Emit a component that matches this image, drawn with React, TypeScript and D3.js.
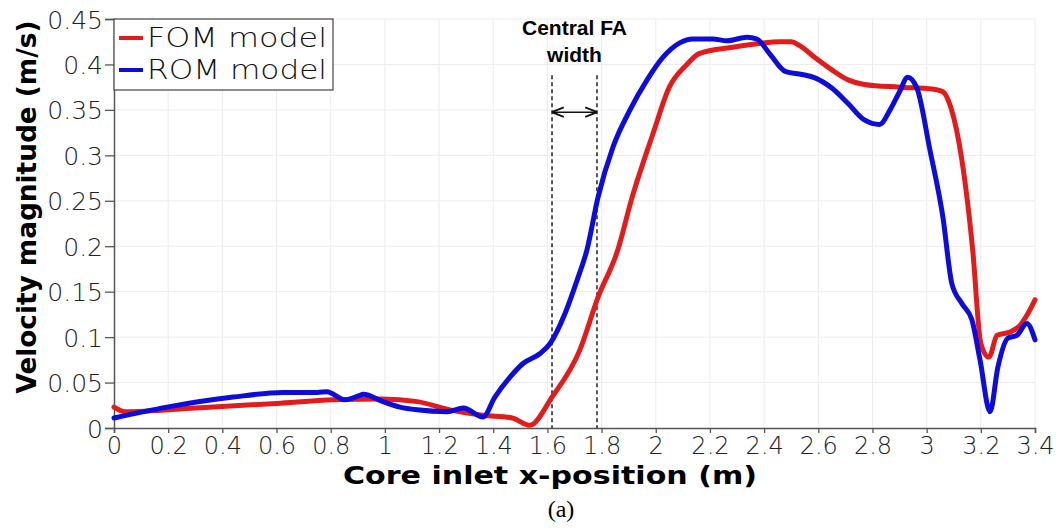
import React, { useEffect, useRef } from 'react';
import * as d3 from 'd3';

// FOM model (red) - core inlet x-position (m) vs velocity magnitude (m/s)
const fomX = [0, 0.04, 0.3, 0.6, 0.81, 0.99, 1.12, 1.24, 1.36, 1.47, 1.535, 1.617, 1.72, 1.787, 1.86, 1.91, 1.99, 2.05, 2.115, 2.16, 2.285, 2.38, 2.46, 2.5, 2.53, 2.59, 2.65, 2.71, 2.77, 2.9, 3.02, 3.06, 3.09, 3.13, 3.17, 3.2, 3.23, 3.26, 3.31, 3.345, 3.37, 3.4];
const fomY = [0.023, 0.018, 0.022, 0.027, 0.031, 0.032, 0.029, 0.02, 0.014, 0.011, 0.003, 0.034, 0.086, 0.144, 0.196, 0.251, 0.324, 0.375, 0.4, 0.412, 0.419, 0.423, 0.425, 0.425, 0.421, 0.407, 0.394, 0.383, 0.378, 0.375, 0.373, 0.37, 0.352, 0.295, 0.196, 0.093, 0.078, 0.102, 0.106, 0.113, 0.124, 0.141];

// ROM model (blue)
const romX = [0, 0.196, 0.44, 0.624, 0.75, 0.786, 0.853, 0.908, 0.92, 0.993, 1.056, 1.118, 1.23, 1.29, 1.362, 1.406, 1.462, 1.51, 1.573, 1.61, 1.665, 1.71, 1.746, 1.787, 1.842, 1.905, 1.968, 2.027, 2.09, 2.137, 2.21, 2.263, 2.337, 2.373, 2.42, 2.48, 2.54, 2.59, 2.65, 2.71, 2.77, 2.826, 2.865, 2.9, 2.93, 2.964, 3.012, 3.06, 3.093, 3.13, 3.167, 3.197, 3.234, 3.263, 3.3, 3.333, 3.37, 3.4];
const romY = [0.011, 0.023, 0.034, 0.039, 0.039, 0.04, 0.031, 0.036, 0.037, 0.029, 0.023, 0.02, 0.018, 0.022, 0.012, 0.034, 0.056, 0.071, 0.082, 0.093, 0.126, 0.163, 0.196, 0.254, 0.309, 0.35, 0.383, 0.408, 0.424, 0.428, 0.428, 0.426, 0.43, 0.428, 0.412, 0.392, 0.389, 0.385, 0.374, 0.357, 0.339, 0.334, 0.35, 0.37, 0.386, 0.374, 0.306, 0.232, 0.159, 0.137, 0.119, 0.075, 0.018, 0.067, 0.099, 0.102, 0.115, 0.097];

const xTicks = [0, 0.2, 0.4, 0.6, 0.8, 1, 1.2, 1.4, 1.6, 1.8, 2, 2.2, 2.4, 2.6, 2.8, 3, 3.2, 3.4];
const yTicks = [0, 0.05, 0.1, 0.15, 0.2, 0.25, 0.3, 0.35, 0.4, 0.45];

const seriesNames = ['FOM model', 'ROM model'];
const seriesColors = ['#e31b1b', '#0c0cdc'];

// central fuel assembly width markers
const faBounds = [1.617, 1.783];
const faTop = 0.388;
const faArrowY = 0.3475;

const W = 1061;
const H = 528;

export default function App() {
  const ref = useRef<SVGSVGElement>(null);

  useEffect(() => {
    const svg = d3.select(ref.current);
    svg.selectAll('*').remove();

    const margin = { top: 19, right: 26, bottom: 100, left: 114 };
    const x = d3.scaleLinear().domain([0, 3.4]).range([margin.left, W - margin.right]);
    const y = d3.scaleLinear().domain([0, 0.45]).range([H - margin.bottom, margin.top]);

    const tickFont = '"DejaVu Sans", sans-serif';

    svg.append('rect').attr('width', W).attr('height', H).attr('fill', 'white');

    // grid
    const grid = svg.append('g').attr('stroke', '#ececec').attr('stroke-width', 1);
    grid.selectAll('.gx')
      .data(xTicks.slice(1))
      .enter()
      .append('line')
      .attr('x1', (d) => x(d)).attr('x2', (d) => x(d))
      .attr('y1', y(0)).attr('y2', y(0.45));
    grid.selectAll('.gy')
      .data(yTicks.slice(1))
      .enter()
      .append('line')
      .attr('x1', x(0)).attr('x2', x(3.4))
      .attr('y1', (d) => y(d)).attr('y2', (d) => y(d));

    // axes
    const xAxis = svg.append('g')
      .attr('transform', `translate(0,${y(0)})`)
      .call(d3.axisBottom(x).tickValues(xTicks).tickFormat((d) => String(d)).tickSize(5).tickPadding(4));
    const yAxis = svg.append('g')
      .attr('transform', `translate(${x(0)},0)`)
      .call(d3.axisLeft(y).tickValues(yTicks).tickFormat((d) => String(d)).tickSize(9).tickPadding(2));

    [xAxis, yAxis].forEach((a) => {
      a.select('.domain').attr('stroke', '#555').attr('stroke-width', 1.5);
      a.selectAll('.tick line').attr('stroke', '#555').attr('stroke-width', 1.3);
      a.selectAll('.tick text')
        .attr('fill', '#222')
        .style('font-family', tickFont)
        .style('font-weight', '200')
        .style('font-size', '25px');
    });
    xAxis.selectAll('.tick text').attr('dy', '0.71em').style('font-size', '24px');
    yAxis.selectAll('.tick text').attr('dy', '0.36em');

    // central FA annotation
    const ann = svg.append('g');
    ann.selectAll('line.fa')
      .data(faBounds)
      .enter()
      .append('line')
      .attr('x1', (d) => x(d)).attr('x2', (d) => x(d))
      .attr('y1', y(faTop)).attr('y2', y(0))
      .attr('stroke', '#111')
      .attr('stroke-width', 1.4)
      .attr('stroke-dasharray', '4,3');

    svg.append('defs').html(
      '<marker id="ah" viewBox="0 0 10 10" refX="9" refY="5" markerWidth="8" markerHeight="8" orient="auto-start-reverse">' +
      '<path d="M0,1 L10,5 L0,9" fill="none" stroke="#111" stroke-width="1.6"/></marker>'
    );
    ann.append('line')
      .attr('x1', x(faBounds[0]) + 1).attr('x2', x(faBounds[1]) - 1)
      .attr('y1', y(faArrowY)).attr('y2', y(faArrowY))
      .attr('stroke', '#111')
      .attr('stroke-width', 1.5)
      .attr('marker-start', 'url(#ah)')
      .attr('marker-end', 'url(#ah)');

    const annX = (x(faBounds[0]) + x(faBounds[1])) / 2;
    ann.append('text')
      .attr('x', annX).attr('y', 35)
      .attr('text-anchor', 'middle')
      .style('font-family', '"Liberation Sans", Arial, sans-serif')
      .style('font-weight', 'bold')
      .style('font-size', '21px')
      .text('Central FA');
    ann.append('text')
      .attr('x', annX).attr('y', 62)
      .attr('text-anchor', 'middle')
      .style('font-family', '"Liberation Sans", Arial, sans-serif')
      .style('font-weight', 'bold')
      .style('font-size', '21px')
      .text('width');

    // lines
    const series = [
      fomX.map((v, i) => [v, fomY[i]] as [number, number]),
      romX.map((v, i) => [v, romY[i]] as [number, number]),
    ];
    const line = d3.line<[number, number]>()
      .x((d) => x(d[0]))
      .y((d) => y(d[1]))
      .curve(d3.curveMonotoneX);

    svg.selectAll('path.series')
      .data(series)
      .enter()
      .append('path')
      .attr('class', 'series')
      .attr('d', (d) => line(d))
      .attr('fill', 'none')
      .attr('stroke', (d, i) => seriesColors[i])
      .attr('stroke-width', 5)
      .attr('stroke-linejoin', 'round')
      .attr('stroke-linecap', 'round');

    // legend
    const legend = svg.append('g');
    legend.append('rect')
      .attr('x', x(0)).attr('y', 19)
      .attr('width', 219).attr('height', 71)
      .attr('fill', 'white')
      .attr('stroke', '#444')
      .attr('stroke-width', 1.2);
    const items = legend.selectAll('.item')
      .data(seriesNames)
      .enter()
      .append('g')
      .attr('transform', (d, i) => `translate(${x(0)}, ${38 + i * 32})`);
    items.append('line')
      .attr('x1', 5).attr('x2', 29)
      .attr('stroke', (d, i) => seriesColors[i])
      .attr('stroke-width', 4);
    items.append('text')
      .attr('x', 33).attr('y', 9)
      .attr('textLength', 180)
      .attr('lengthAdjust', 'spacingAndGlyphs')
      .style('font-family', tickFont)
      .style('font-weight', '200')
      .style('font-size', '27px')
      .attr('fill', '#111')
      .text((d) => d);

    // axis titles
    svg.append('text')
      .attr('x', 550).attr('y', 484)
      .attr('text-anchor', 'middle')
      .attr('textLength', 414)
      .attr('lengthAdjust', 'spacingAndGlyphs')
      .style('font-family', tickFont)
      .style('font-weight', 'bold')
      .style('font-size', '25px')
      .text('Core inlet x-position (m)');

    svg.append('text')
      .attr('transform', 'translate(36,207) rotate(-90)')
      .attr('text-anchor', 'middle')
      .attr('textLength', 373)
      .attr('lengthAdjust', 'spacingAndGlyphs')
      .style('font-family', tickFont)
      .style('font-weight', 'bold')
      .style('font-size', '27px')
      .text('Velocity magnitude (m/s)');

    svg.append('text')
      .attr('x', 561).attr('y', 517)
      .attr('text-anchor', 'middle')
      .style('font-family', '"Liberation Serif", "Times New Roman", serif')
      .style('font-size', '24px')
      .text('(a)');
  }, []);

  return (
    <svg
      ref={ref}
      width={W}
      height={H}
      style={{ position: 'absolute', left: 0, top: 0, display: 'block' }}
    />
  );
}
